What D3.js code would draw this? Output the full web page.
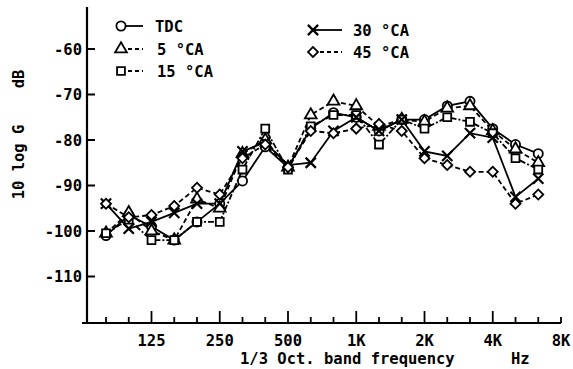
<!DOCTYPE html>
<html>
<head>
<meta charset="utf-8">
<script src="https://d3js.org/d3.v7.min.js"></script>
<style>
  html, body { margin: 0; padding: 0; background: #fff; }
  svg { display: block; }
  text { font-family: "DejaVu Sans Mono", "Liberation Mono", monospace; font-weight: bold; fill: #000; }
</style>
</head>
<body>
<svg id="chart" width="573" height="369"></svg>
<script>
// ---- data ----
const bands = ["80","100","125","160","200","250","315","400","500","630","800","1K","1.25K","1.6K","2K","2.5K","3.15K","4K","5K","6.3K","8K"];
const labeledBands = ["125","250","500","1K","2K","4K","8K"];
const yTicks = [-60, -70, -80, -90, -100, -110];

const tdc   = [-101, -96.5, -99, -102, -98, -94, -89, -81.5, -86, -77.5, -74, -75, -78, -75.5, -75.5, -72.5, -71.5, -77.5, -81, -83];
const ca5   = [-100.5, -96, -100, -102, -93, -95, -83, -80, -86, -74.5, -71.5, -72.5, -77, -75.5, -76, -73, -72.5, -78, -82, -85];
const ca15  = [-100.5, -97.5, -102, -102, -98, -98, -86.5, -77.5, -86.5, -77, -74.5, -74.5, -81, -75.5, -77.5, -75, -76, -78.5, -84, -86.5];
const ca30  = [-94, -99.5, -98, -96, -94, -94, -82.5, -80.5, -85.5, -85, -78, -75, -78, -75.5, -82.5, -83.5, -78.5, -79.5, -92.5, -88.5];
const ca45  = [-94, -97, -96.5, -94.5, -90.5, -92, -84, -81, -86, -78, -78.5, -77.5, -76.5, -78, -84, -85.5, -87, -87, -94, -92];

const seriesNames = ["TDC", "5 °CA", "15 °CA", "30 °CA", "45 °CA"];

// ---- drawing ----
const svg = d3.select("#chart");
const x = d3.scaleLinear().domain([0, bands.length - 1]).range([106, 561]);
const y = d3.scaleLinear().domain([-60, -110]).range([49, 276.5]);

const axisX = 87, axisY = 323;

const series = [
  { name: seriesNames[0], values: tdc,  symbol: d3.symbolCircle,   size: 66, rot: 0,  dash: null },
  { name: seriesNames[1], values: ca5,  symbol: d3.symbolTriangle, size: 60, rot: 0,  dash: "5,3" },
  { name: seriesNames[2], values: ca15, symbol: d3.symbolSquare,   size: 62, rot: 0,  dash: "6,2,2,2" },
  { name: seriesNames[3], values: ca30, symbol: d3.symbolTimes,    size: 70, rot: 0,  dash: null },
  { name: seriesNames[4], values: ca45, symbol: d3.symbolSquare,   size: 50, rot: 45, dash: "5,3" }
];

// y axis
svg.append("line").attr("x1", axisX).attr("x2", axisX).attr("y1", 7).attr("y2", axisY)
  .attr("stroke", "#000").attr("stroke-width", 2.2);
yTicks.forEach(t => {
  svg.append("line").attr("x1", axisX).attr("x2", axisX + 8).attr("y1", y(t)).attr("y2", y(t))
    .attr("stroke", "#000").attr("stroke-width", 2);
  svg.append("text").attr("x", 82).attr("y", y(t)).attr("dy", "0.36em")
    .attr("text-anchor", "end").attr("font-size", 15.5).text(t);
});

// x axis
svg.append("line").attr("x1", 82).attr("x2", x(bands.length - 1)).attr("y1", axisY).attr("y2", axisY)
  .attr("stroke", "#000").attr("stroke-width", 2.2);
bands.forEach((b, i) => {
  const major = labeledBands.includes(b) && b !== "8K";
  const len = major ? 12 : 6;
  svg.append("line").attr("x1", x(i)).attr("x2", x(i)).attr("y1", axisY).attr("y2", axisY - len)
    .attr("stroke", "#000").attr("stroke-width", 1.8);
  if (labeledBands.includes(b)) {
    svg.append("text").attr("x", x(i)).attr("y", 346).attr("text-anchor", "middle")
      .attr("font-size", 15.5).text(b);
  }
});
svg.append("text").attr("x", 240).attr("y", 364).attr("font-size", 15.5).text("1/3 Oct. band frequency");
svg.append("text").attr("x", 511).attr("y", 364).attr("font-size", 15.5).text("Hz");

// y titles
svg.append("text").attr("transform", "translate(24,162) rotate(-90)").attr("text-anchor", "middle")
  .attr("font-size", 15.5).text("10 log G");
svg.append("text").attr("transform", "translate(24,79) rotate(-90)").attr("text-anchor", "middle")
  .attr("font-size", 15.5).text("dB");

// lines
const line = d3.line().x((d, i) => x(i)).y(d => y(d));
series.forEach(s => {
  svg.append("path").datum(s.values).attr("d", line)
    .attr("fill", "none").attr("stroke", "#000").attr("stroke-width", 1.8)
    .attr("stroke-dasharray", s.dash);
});
// markers
series.forEach(s => {
  const isX = s.symbol === d3.symbolTimes;
  svg.append("g").selectAll("path").data(s.values).join("path")
    .attr("transform", (d, i) => `translate(${x(i)},${y(d)}) rotate(${s.rot})`)
    .attr("d", d3.symbol().type(s.symbol).size(s.size))
    .attr("fill", isX ? "none" : "#fff")
    .attr("stroke", "#000").attr("stroke-width", isX ? 2.2 : 1.8);
});

// legend
const legend = [
  { s: series[0], mx: 121, lx2: 143, tx: 155, ty: 26 },
  { s: series[1], mx: 121, lx2: 143, tx: 157, ty: 49 },
  { s: series[2], mx: 121, lx2: 143, tx: 157, ty: 71 },
  { s: series[3], mx: 313, lx2: 342, tx: 353, ty: 30 },
  { s: series[4], mx: 313, lx2: 342, tx: 353, ty: 52 }
];
legend.forEach(l => {
  const isX = l.s.symbol === d3.symbolTimes;
  svg.append("line").attr("x1", l.mx).attr("x2", l.lx2).attr("y1", l.ty).attr("y2", l.ty)
    .attr("stroke", "#000").attr("stroke-width", 1.8).attr("stroke-dasharray", l.s.dash ? "4,3" : null);
  svg.append("path").attr("transform", `translate(${l.mx},${l.ty}) rotate(${l.s.rot})`)
    .attr("d", d3.symbol().type(l.s.symbol).size(l.s.size))
    .attr("fill", isX ? "none" : "#fff").attr("stroke", "#000").attr("stroke-width", isX ? 2.2 : 1.8);
  svg.append("text").attr("x", l.tx).attr("y", l.ty).attr("dy", "0.36em").attr("font-size", 15.5).text(l.s.name);
});
</script>
</body>
</html>
